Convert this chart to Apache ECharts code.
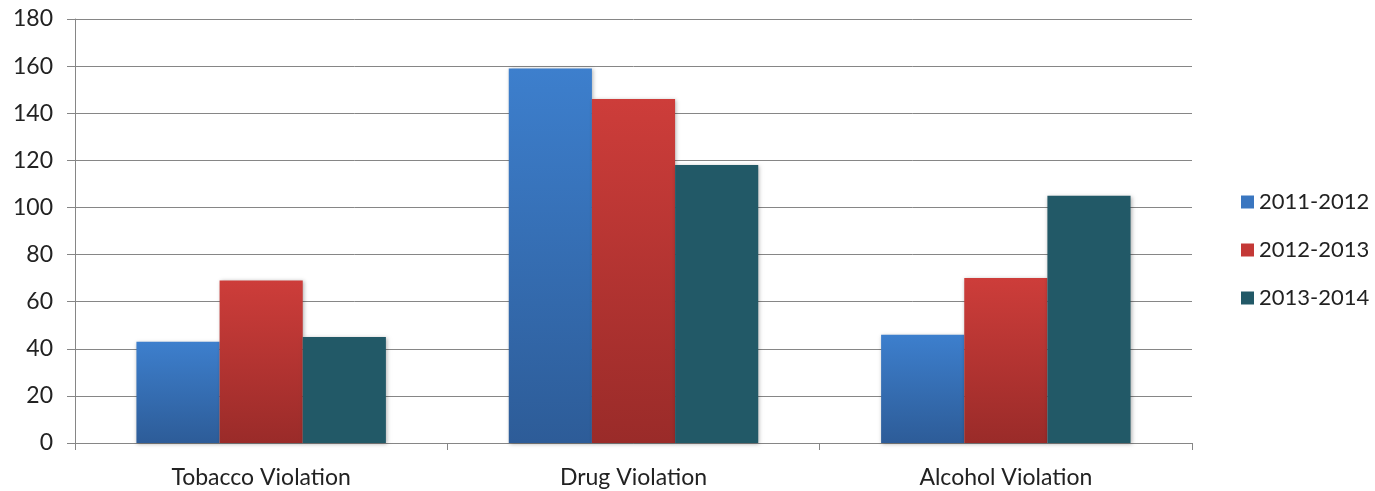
<!DOCTYPE html>
<html>
<head>
<meta charset="utf-8">
<script src="https://cdn.jsdelivr.net/npm/echarts@6/dist/echarts.min.js"></script>
<style>
  html, body { margin: 0; padding: 0; background: #fff; }
  #chart { width: 1375px; height: 491px; }
</style>
</head>
<body>
<div id="chart"></div>
<script>
// Violation counts per school year
const categories = ['Tobacco Violation', 'Drug Violation', 'Alcohol Violation'];
const seriesNames = ['2011-2012', '2012-2013', '2013-2014'];
const values2011 = [43, 159, 46];
const values2012 = [69, 146, 70];
const values2013 = [45, 118, 105];
const yTicks = [0, 20, 40, 60, 80, 100, 120, 140, 160, 180];

const FONT = 'Lato, "Open Sans", sans-serif';

function grad(top, bottom) {
  return new echarts.graphic.LinearGradient(0, 0, 0, 1, [
    { offset: 0, color: top },
    { offset: 1, color: bottom }
  ]);
}

const styles = [
  { fill: grad('#3d7fcd', '#2d5c98'), legend: '#3a76c0' },
  { fill: grad('#cd3d3a', '#9a2b29'), legend: '#c43836' },
  { fill: '#225967', legend: '#225967' }
];
const allValues = [values2011, values2012, values2013];

const chart = echarts.init(document.getElementById('chart'));
chart.setOption({
  animation: false,
  backgroundColor: '#ffffff',
  grid: { left: 75, right: 183, top: 19, bottom: 48 },
  legend: {
    orient: 'vertical',
    left: 1236,
    top: 186,
    itemWidth: 13,
    itemHeight: 13,
    itemGap: 26,
    icon: 'rect',
    textStyle: { fontFamily: FONT, fontSize: 22, color: '#222' },
    data: seriesNames.map((n, i) => ({ name: n, itemStyle: { color: styles[i].legend } }))
  },
  xAxis: {
    type: 'category',
    data: categories,
    axisLine: { lineStyle: { color: '#868686', width: 1 } },
    axisTick: { show: true, length: 7, lineStyle: { color: '#868686' } },
    axisLabel: { fontFamily: FONT, fontSize: 23, color: '#222', margin: 23 }
  },
  yAxis: {
    type: 'value',
    min: yTicks[0],
    max: yTicks[yTicks.length - 1],
    interval: 20,
    axisLine: { show: true, lineStyle: { color: '#868686', width: 1 } },
    axisTick: { show: true, length: 8, lineStyle: { color: '#868686' } },
    splitLine: { lineStyle: { color: '#868686', width: 1 } },
    axisLabel: { fontFamily: FONT, fontSize: 23, color: '#222', margin: 22 }
  },
  series: seriesNames.map((name, i) => ({
    name: name,
    type: 'bar',
    data: allValues[i],
    barGap: '0%',
    barCategoryGap: '33%',
    itemStyle: {
      color: styles[i].fill,
      shadowColor: 'rgba(0,0,0,0.3)',
      shadowBlur: 4,
      shadowOffsetX: 1,
      shadowOffsetY: 1
    }
  }))
});
</script>
</body>
</html>
